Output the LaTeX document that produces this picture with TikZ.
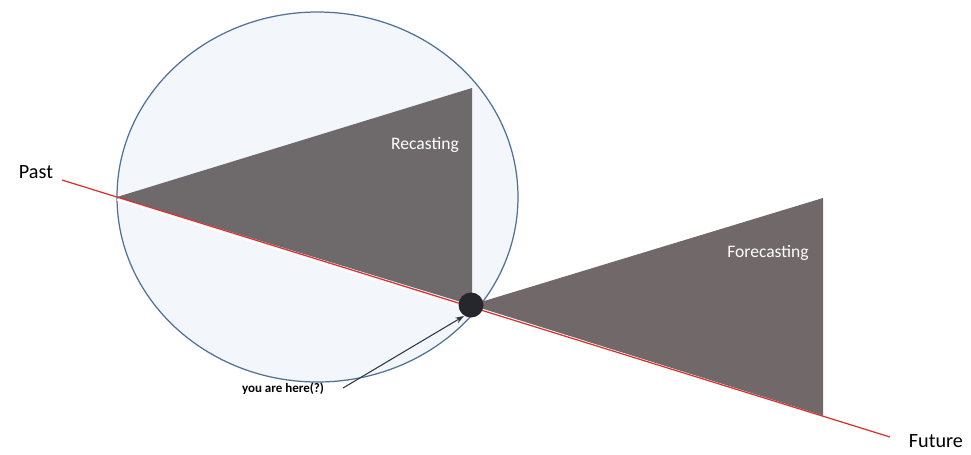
\documentclass[tikz,border=0pt]{standalone}
\usepackage{fontspec}
\setmainfont{Carlito}
\usetikzlibrary{arrows.meta}
\definecolor{cfill}{HTML}{F3F6FB}
\definecolor{cline}{HTML}{4F7097}
\definecolor{tri}{HTML}{6E6A6C}
\definecolor{redl}{HTML}{D9302C}
\definecolor{dotc}{HTML}{25272D}
\tikzset{
  lbl/.style={font=\fontsize{10}{12}\selectfont, text=white},
  axislbl/.style={font=\fontsize{11.5}{13}\selectfont, text=black},
}
\begin{document}
\begin{tikzpicture}[x=0.02cm,y=-0.02cm]
\useasboundingbox (0,0) rectangle (971,454);
\fill[white] (0,0) rectangle (971,454);
% circle
\draw[cline, fill=cfill, line width=0.7pt] (317.5,197) ellipse [x radius=200.5, y radius=185];
% triangles
\coordinate (pl) at (117,197);
\coordinate (now) at (471,305);
\fill[tri] (pl) -- (472,88) -- (472,305.3) -- cycle;
\fill[tri!98!red] (now) -- (823,198) -- (823,415.5) -- cycle;
% timeline
\coordinate (ps) at (62,180);
\coordinate (fe) at (890,437);
\draw[white, line width=0.8pt] ([yshift=-1.6pt]pl) -- ([yshift=-1.6pt]823,416);
\draw[redl, line width=0.7pt] (ps) -- (fe);
% dot
\fill[dotc] (now) circle [radius=12.5];
% labels
\node[axislbl, anchor=base] (past) at (36,178) {Past};
\node[axislbl, anchor=base] (future) at (936,447) {Future};
\node[lbl] (rec) at (425,145) {Recasting};
\node[lbl] (fore) at (768,253) {Forecasting};
\node[font=\bfseries\fontsize{7.4}{9}\selectfont, inner sep=1pt] (you) at (283,389) {you are here(?)};
\coordinate (tail) at (343,388);
\draw[dotc!80!cline, line width=0.6pt, -{Stealth[length=5pt,width=3.5pt]}] (tail) -- (464,316);
\end{tikzpicture}
\end{document}
